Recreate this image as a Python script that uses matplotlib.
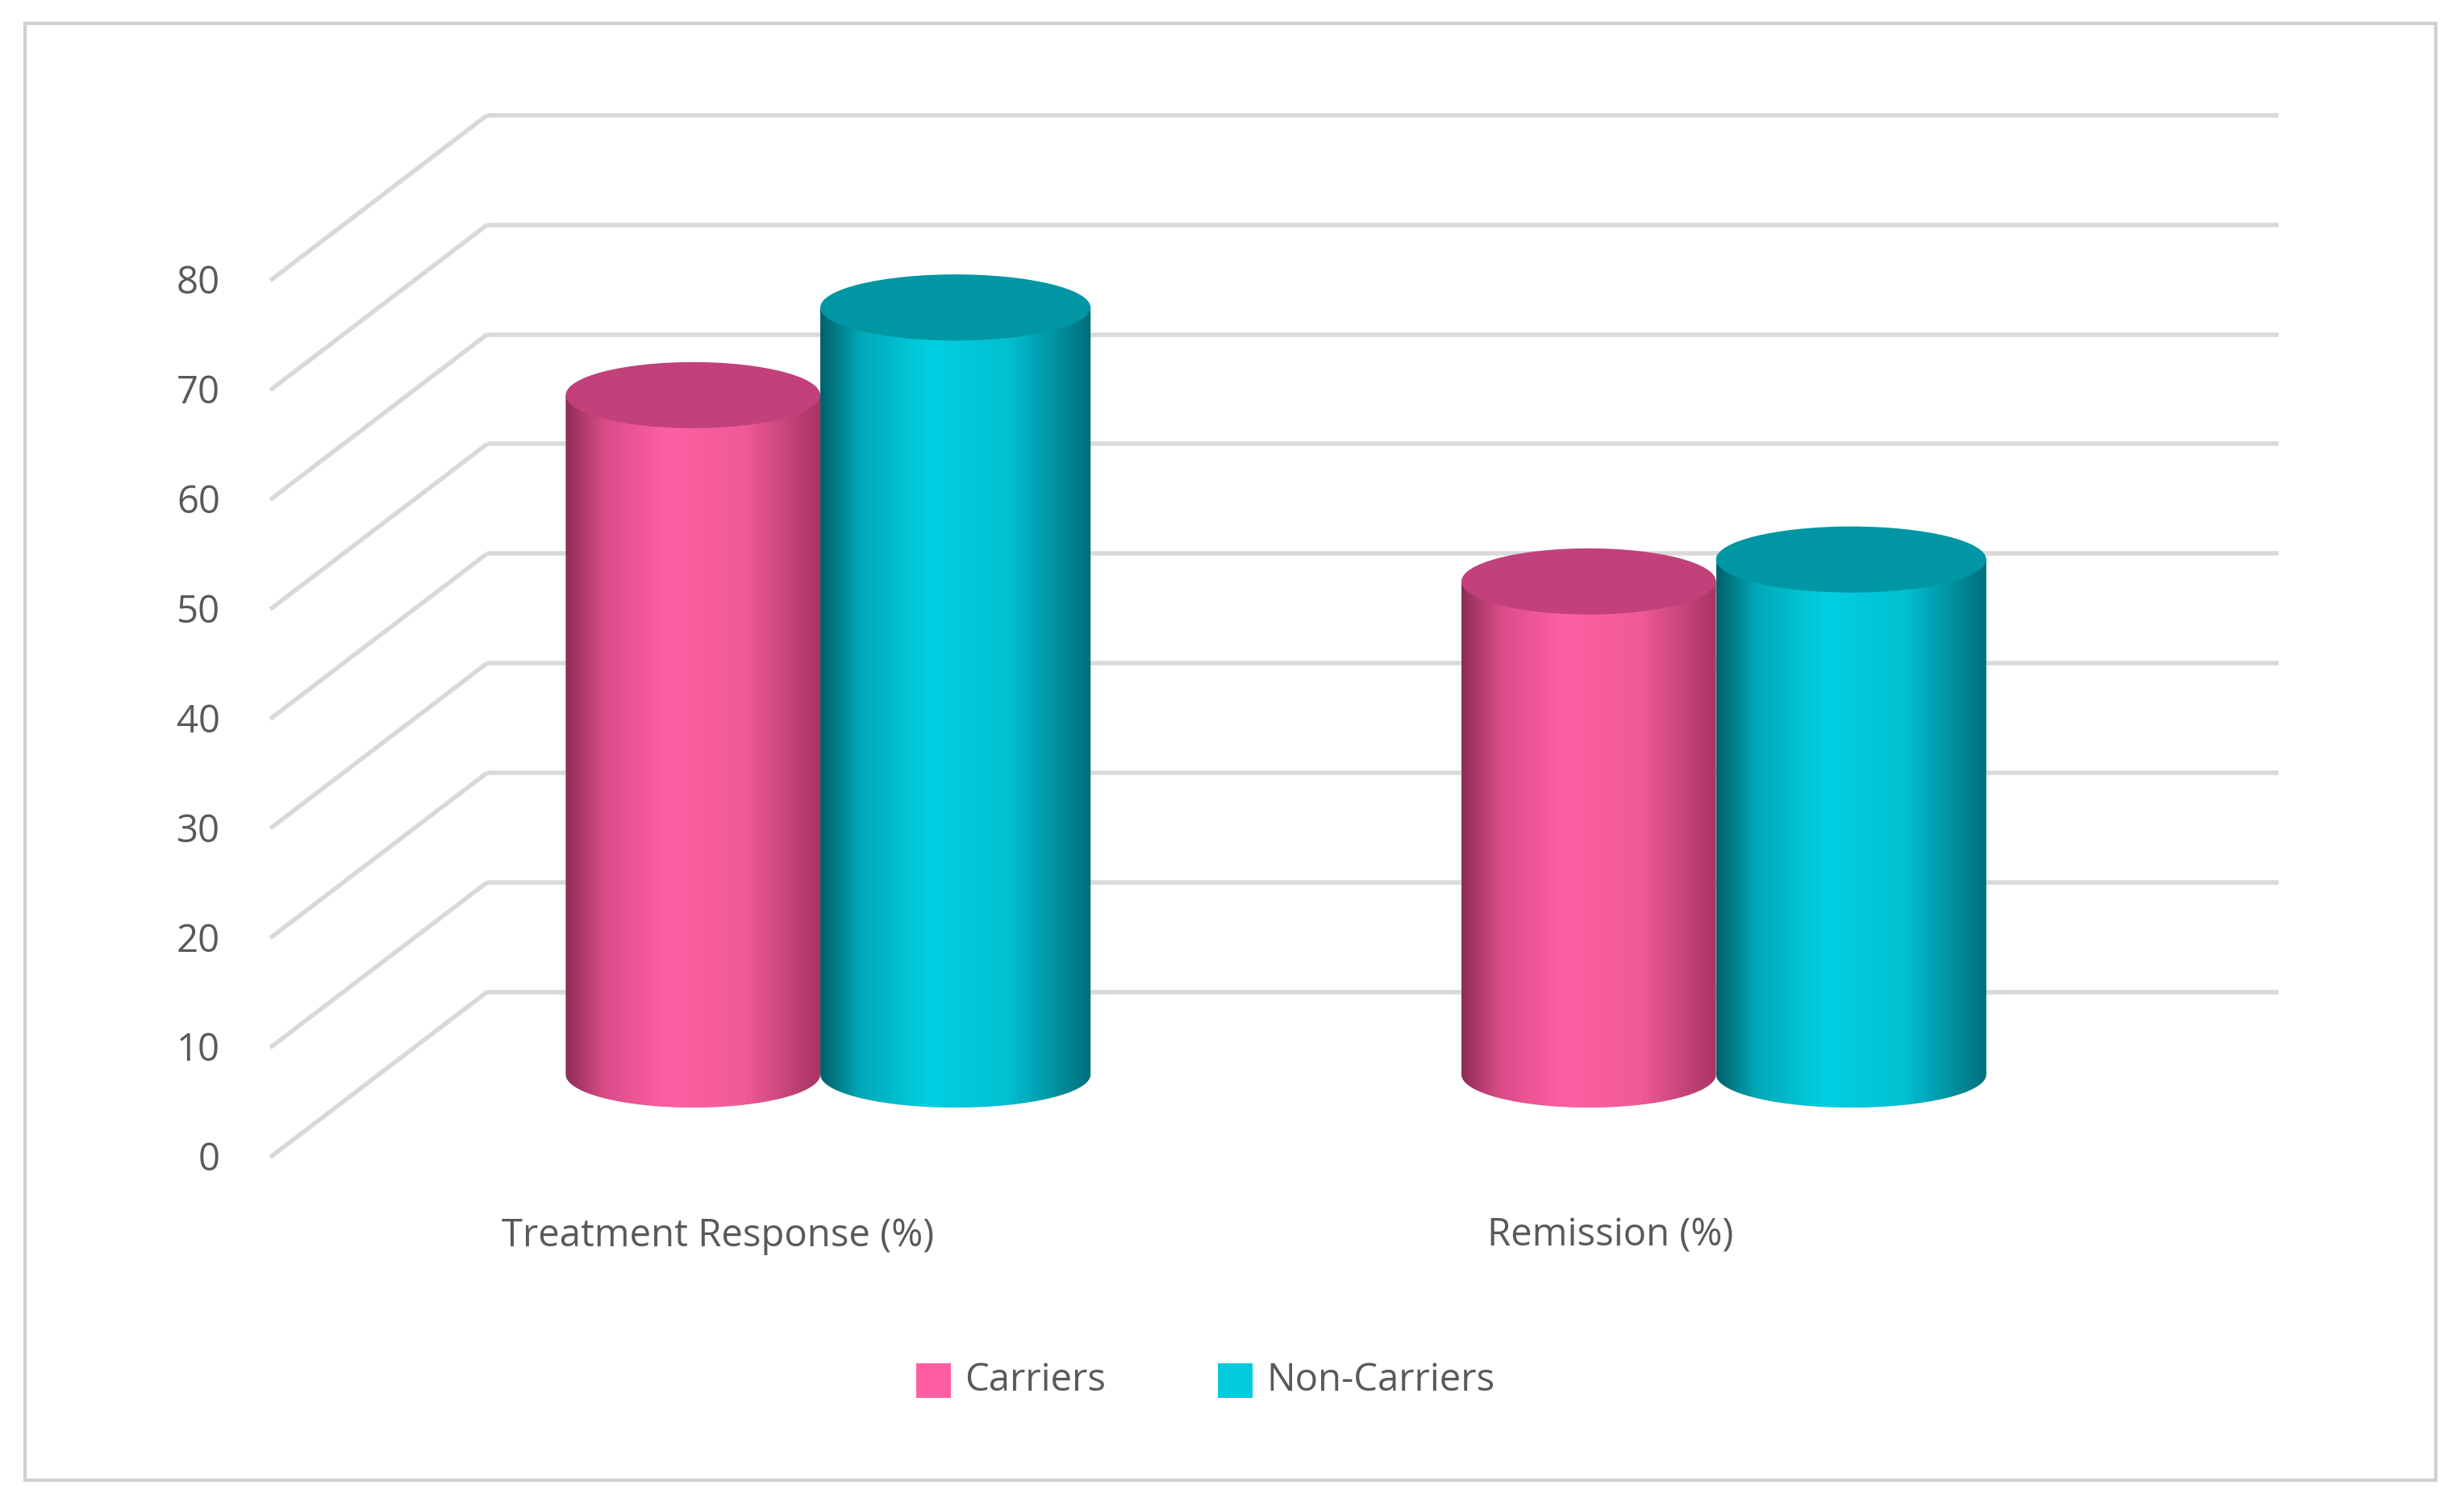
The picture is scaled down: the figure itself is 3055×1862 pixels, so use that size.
import numpy as np
import matplotlib
matplotlib.use("Agg")
import matplotlib.pyplot as plt
from matplotlib.path import Path
from matplotlib.patches import PathPatch, Ellipse, Rectangle

categories = ["Treatment Response (%)", "Remission (%)"]
series = ["Carriers", "Non-Carriers"]
carriers = [62, 45]
non_carriers = [70, 47]
yticks = [0, 10, 20, 30, 40, 50, 60, 70, 80]

W, H = 1568, 954
fig = plt.figure(figsize=(30.55, 18.62), dpi=100)
ax = fig.add_axes([0, 0, 1, 1])
ax.set_xlim(0, W); ax.set_ylim(H, 0); ax.axis("off")

FONT = "Open Sans"; GRAY = "#595959"; GRID = "#d9d9d9"
k = 6.96
def yb(v): return 630 - v * k
def yf(v): return 735 - v * k
def ym(v): return 682.5 - v * k

ax.add_patch(Rectangle((16, 15), 1534, 925, fill=False, ec="#d0d0d0", lw=3))
for v in yticks:
    ax.plot([172, 310], [yf(v), yb(v)], color=GRID, lw=4, solid_capstyle="butt")
    ax.plot([310, 1450], [yb(v), yb(v)], color=GRID, lw=4, solid_capstyle="butt")
    ax.text(140, yf(v) + 2, str(v), ha="right", va="center", fontsize=34, color=GRAY, family=FONT)

def cyl(x0, x1, v, cols, topc):
    b = 21
    ytop, ybot = ym(v), ym(0)
    cx, a = (x0 + x1) / 2, (x1 - x0) / 2
    t = np.linspace(np.pi, 0, 60)
    arc = np.c_[cx + a * np.cos(t), ybot + b * np.sin(t)]
    verts = np.vstack([[x0, ytop], arc, [x1, ytop], [x0, ytop]])
    patch = PathPatch(Path(verts), fc="none", ec="none")
    ax.add_patch(patch)
    from matplotlib.colors import LinearSegmentedColormap
    cm = LinearSegmentedColormap.from_list("c", cols)
    grad = np.linspace(0, 1, 256)[None, :]
    im = ax.imshow(grad, cmap=cm, extent=[x0, x1, ybot + b, ytop], aspect="auto", zorder=2)
    im.set_clip_path(patch)
    ax.add_patch(Ellipse((cx, ytop), 2 * a, 2 * b, fc=topc, ec="none", zorder=3))

pink = [(0, "#8e2c57"), (0.15, "#d94c88"), (0.4, "#ff60a3"), (0.7, "#f05a98"), (1, "#a83566")]
teal = [(0, "#00616c"), (0.15, "#00a9b8"), (0.4, "#00d0e2"), (0.7, "#00bfd0"), (1, "#006e7a")]
pinkc = [(p, c) for p, c in pink]
centers = [441, 1011]
for i, c in enumerate(centers):
    cyl(c - 81, c + 81, carriers[i], pinkc, "#c2417a")
    cyl(c + 81, c + 253, non_carriers[i], teal, "#0096a3")
    ax.text([457, 1025][i], 785, categories[i], ha="center", va="center", fontsize=34, color=GRAY, family=FONT)

ax.add_patch(Rectangle((583, 866), 22, 22, fc="#ff5fa2", ec="none"))
ax.text(614, 877, series[0], ha="left", va="center", fontsize=34, color=GRAY, family=FONT)
ax.add_patch(Rectangle((775, 866), 22, 22, fc="#00cbdc", ec="none"))
ax.text(806, 877, series[1], ha="left", va="center", fontsize=34, color=GRAY, family=FONT)

fig.savefig("out.png", dpi=100)
